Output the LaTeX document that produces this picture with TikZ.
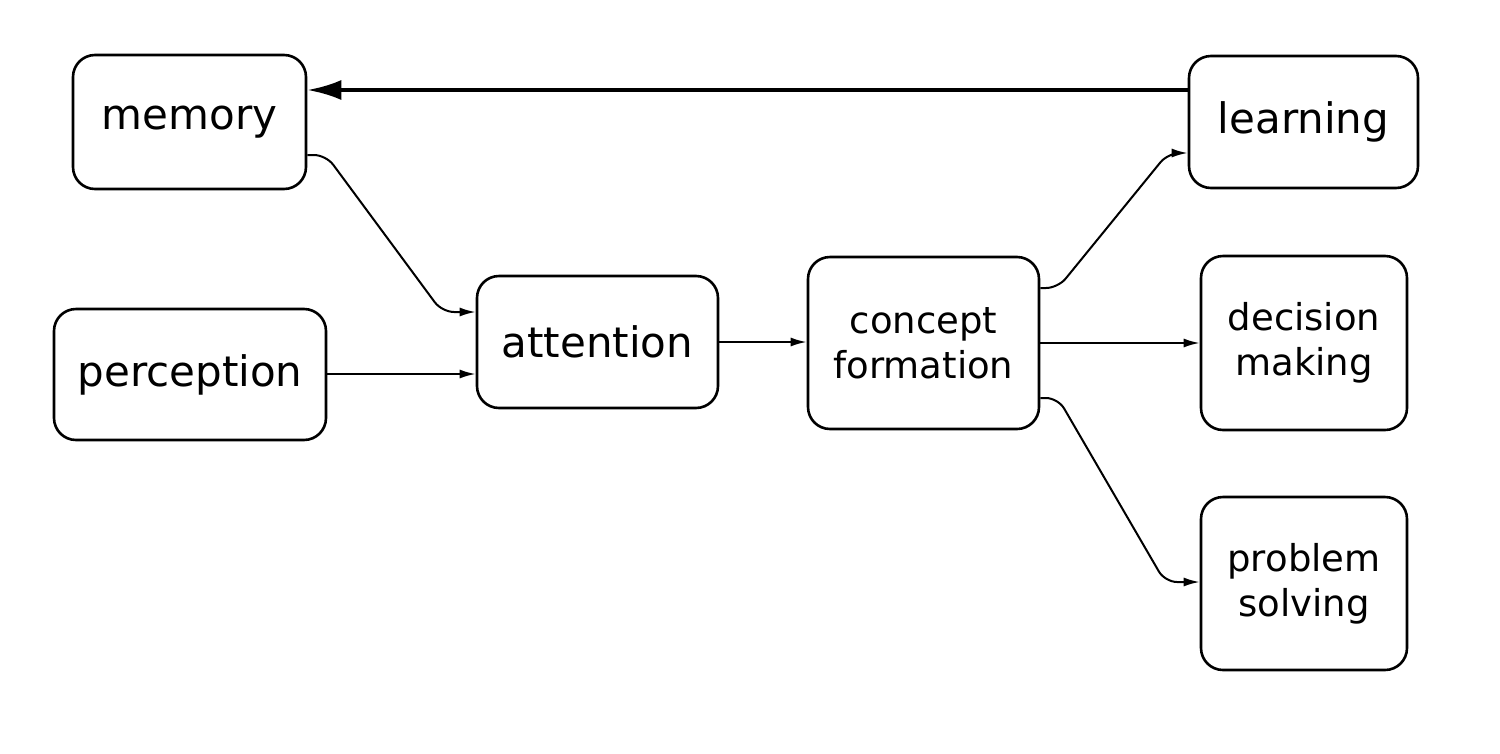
\documentclass[tikz,border=0pt]{standalone}
\usepackage{fontspec}
\setmainfont{DejaVu Sans}
\usetikzlibrary{arrows.meta}
\begin{document}
\begin{tikzpicture}[x=1pt,y=-1pt,
  box/.style={draw,line width=2.6pt,rounded corners=22pt,inner sep=0pt,align=center},
  big/.style={font=\fontsize{42}{48}\selectfont},
  small/.style={font=\fontsize{37}{45}\selectfont},
  conn/.style={line width=2pt,-{Latex[length=16pt,width=9pt]},rounded corners=12pt}]
\useasboundingbox (0,0) rectangle (1500,753);
\node[box,big,minimum width=233pt,minimum height=134pt] (mem) at (189.5,122) {memory};
\node[box,big,minimum width=229pt,minimum height=132pt] (learn) at (1303.5,122) {learning};
\node[box,big,minimum width=272pt,minimum height=131pt] (perc) at (190,374.5) {perception};
\node[box,big,minimum width=241pt,minimum height=132pt] (att) at (597.5,342) {attention};
\node[box,small,minimum width=231pt,minimum height=172pt] (conc) at (923.5,343) {concept\\formation};
\node[box,small,minimum width=206pt,minimum height=174pt] (dec) at (1304,343) {decision\\making};
\node[box,small,minimum width=206pt,minimum height=173pt] (prob) at (1304,583.5) {problem\\solving};
\draw[line width=4pt,-{Latex[length=34pt,width=20pt]}] (learn.west |- 0,90) -- (mem.east |- 0,90);
\draw[conn] (mem.east |- 0,155) -- (326,155) -- (442,312) -- (att.west |- 0,312);
\draw[conn] (perc.east |- 0,374) -- (att.west |- 0,374);
\draw[conn] (att.east) -- (conc.west |- att.east);
\draw[conn] (conc.east |- 0,288) -- (1058,288) -- (1168,153) -- (learn.west |- 0,153);
\draw[conn] (conc.east) -- (dec.west);
\draw[conn] (conc.east |- 0,398) -- (1058,398) -- (1165,582) -- (prob.west |- 0,582);
\end{tikzpicture}
\end{document}
